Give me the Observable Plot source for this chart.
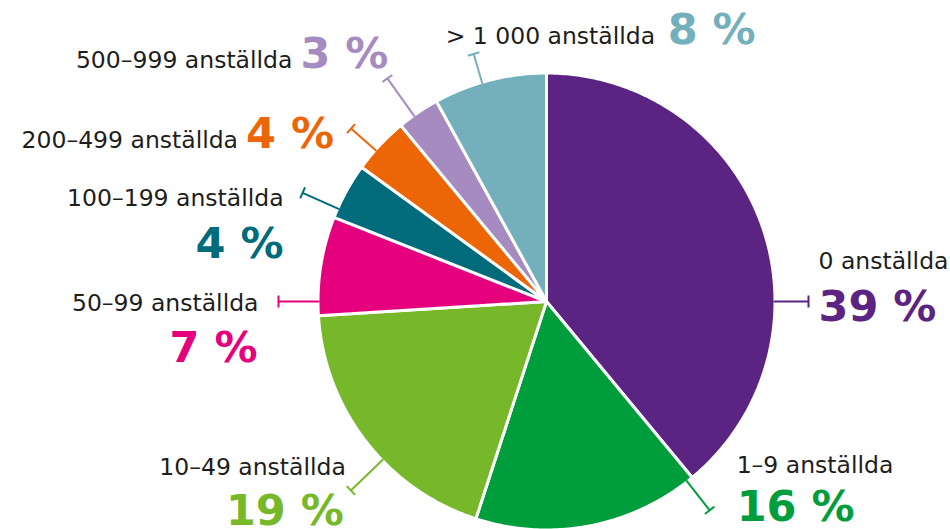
<!DOCTYPE html>
<html><head><meta charset="utf-8">
<script src="https://cdn.jsdelivr.net/npm/d3@7"></script>
<script src="https://cdn.jsdelivr.net/npm/@observablehq/plot@0.6"></script>
<style>body{margin:0;background:#fff}</style>
</head><body><div id="chart"></div>
<script>
// ---- data ----
const categories = ["0 anställda","1–9 anställda","10–49 anställda","50–99 anställda","100–199 anställda","200–499 anställda","500–999 anställda","> 1 000 anställda"];
const shares = [39,16,19,7,4,4,3,8];
const pctLabels = ["39 %","16 %","19 %","7 %","4 %","4 %","3 %","8 %"];
// ---- styles / layout ----
const colors = ["#5b2382","#009d3d","#76b82a","#e5007e","#006b7b","#ec6607","#a68bc1","#74b0bb"];
const W = 950, H = 529, CX = 546, CY = 301, R = 227;
const leaderAngle = [90,142,226,270,294,311.5,324.5,343.6];
const leaderLen = [35,38,45,41,40,34,47,31];
// label offsets from leader end (px): [anchor, dx, dy(baseline)] for name and for percent
const nameOff = [["start",10,-33],["start",27,-37],["end",-5,-15],["end",-20,9],["end",-19,13],["end",-113,19],["end",-95,-10],["start",-28,-10]];
const pctOff  = [["start",10,19],["start",27,11],["end",-7,35],["end",-21,60],["end",-19,65],["end",-17,19],["end",1,-10],["end",282,-10]];

const pie = d3.pie().sort(null).value(d => d)(shares);
const rr = 1 + 1.5 / R;
const slices = [];
pie.forEach((p, i) => {
  slices.push({cat: categories[i], x: 0, y: 0});
  const n = Math.max(8, Math.ceil((p.endAngle - p.startAngle) * 80));
  for (let k = 0; k <= n; k++) {
    const a = p.startAngle + (p.endAngle - p.startAngle) * k / n;
    slices.push({cat: categories[i], x: rr * Math.sin(a), y: rr * Math.cos(a)});
  }
  slices.push({cat: categories[i], x: 0, y: 0});
});

const leaders = categories.map((c, i) => {
  const a = leaderAngle[i] * Math.PI / 180;
  const r2 = 1 + leaderLen[i] / R;
  const ex = r2 * Math.sin(a), ey = r2 * Math.cos(a);
  const px = Math.cos(a) * 6 / R, py = -Math.sin(a) * 6 / R;
  return {cat: c, x1: Math.sin(a), y1: Math.cos(a), x2: ex, y2: ey,
          cx1: ex + px, cy1: ey + py, cx2: ex - px, cy2: ey - py,
          name: c, pct: pctLabels[i],
          nAnchor: nameOff[i][0], nx: ex + nameOff[i][1] / R, ny: ey - nameOff[i][2] / R,
          pAnchor: pctOff[i][0], px: ex + pctOff[i][1] / R, py: ey - pctOff[i][2] / R};
});

const font = "'DejaVu Sans', sans-serif";
const nameStyle = {text: "name", lineAnchor: "bottom", fontSize: 23.5, fill: "#1d1d1b", fontFamily: font};
const pctStyle = {text: "pct", lineAnchor: "bottom", fontSize: 43, fontWeight: 700, fill: "cat", fontFamily: font};
const chart = Plot.plot({
  width: W, height: H,
  margin: 0,
  x: {domain: [-CX / R, (W - CX) / R], axis: null},
  y: {domain: [-(H - CY) / R, CY / R], axis: null},
  color: {domain: categories, range: colors},
  marks: [
    Plot.line(slices, {x: "x", y: "y", z: "cat", fill: "cat", stroke: "white", strokeWidth: 3, strokeLinejoin: "round"}),
    Plot.link(leaders, {x1: "x1", y1: "y1", x2: "x2", y2: "y2", stroke: "cat", strokeWidth: 2}),
    Plot.link(leaders, {x1: "cx1", y1: "cy1", x2: "cx2", y2: "cy2", stroke: "cat", strokeWidth: 2}),
    Plot.text(leaders.filter(d => d.nAnchor === "start"), {x: "nx", y: "ny", textAnchor: "start", ...nameStyle}),
    Plot.text(leaders.filter(d => d.nAnchor === "end"), {x: "nx", y: "ny", textAnchor: "end", ...nameStyle}),
    Plot.text(leaders.filter(d => d.pAnchor === "start"), {x: "px", y: "py", textAnchor: "start", ...pctStyle}),
    Plot.text(leaders.filter(d => d.pAnchor === "end"), {x: "px", y: "py", textAnchor: "end", ...pctStyle})
  ]
});
document.getElementById("chart").appendChild(chart);
</script>
</body></html>
